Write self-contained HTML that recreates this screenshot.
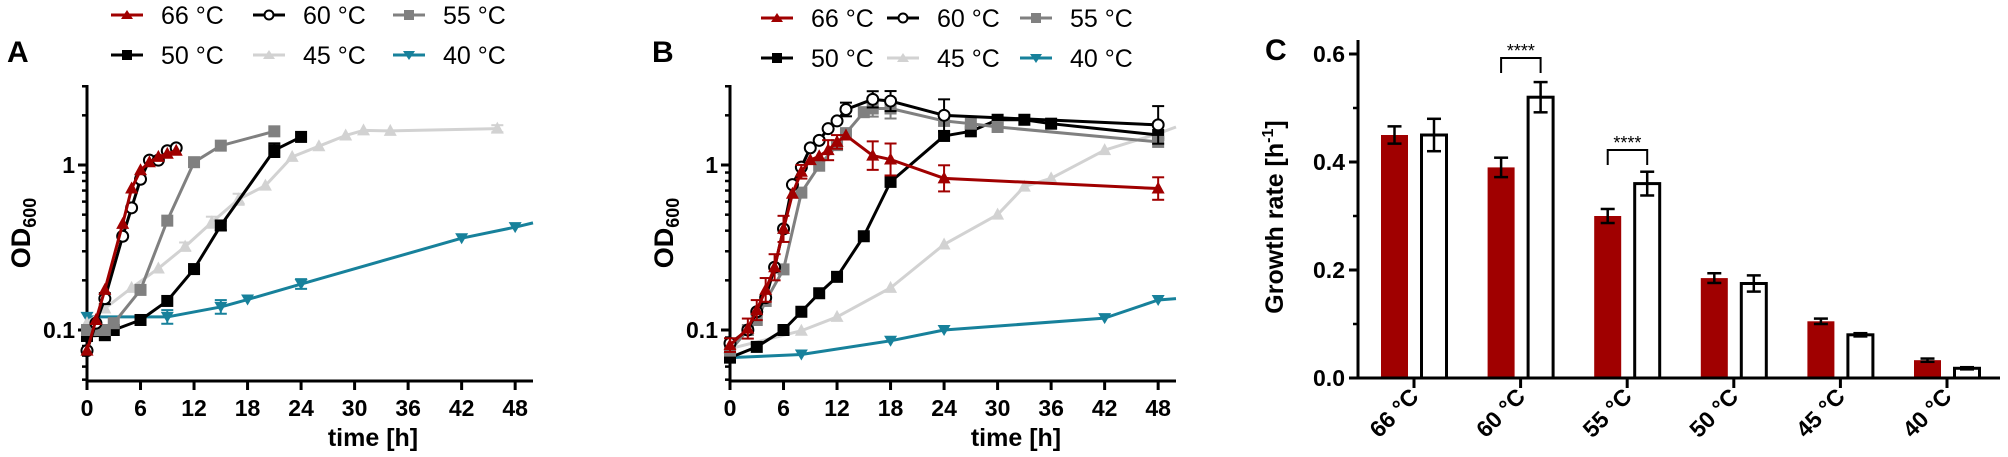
<!DOCTYPE html>
<html><head><meta charset="utf-8"><style>
html,body{margin:0;padding:0;background:#fff;}
svg{display:block;font-family:"Liberation Sans",Arial,sans-serif;}
</style></head><body>
<svg id="fig" width="2008" height="457" viewBox="0 0 2008 457" xmlns="http://www.w3.org/2000/svg"></svg>
<script>
// ---------- Panel A data ----------
const aT66=[0,1,2,4,5,6,7,8,9,10];
const aV66=[0.075,0.115,0.175,0.44,0.72,0.93,1.04,1.12,1.17,1.22];
const aT60=[0,1,2,4,5,6,7,8,9,10];
const aV60=[0.075,0.11,0.155,0.37,0.55,0.82,1.07,1.07,1.22,1.27];
const aT55=[0,1,2,3,6,9,12,15,21];
const aV55=[0.1,0.1,0.1,0.11,0.175,0.46,1.04,1.31,1.6];
const aT50=[0,2,3,6,9,12,15,21,24];
const aV50=[0.092,0.093,0.1,0.115,0.15,0.234,0.43,1.23,1.48];
const aT45=[0,2,5,8,11,14,17,20,23,26,29,31,34,46];
const aV45=[0.11,0.135,0.18,0.236,0.32,0.45,0.62,0.75,1.12,1.3,1.51,1.62,1.61,1.66];
const aT40=[0,9,15,18,24,42,48,50];
const aV40=[0.12,0.12,0.138,0.153,0.19,0.36,0.42,0.446];
// ---------- Panel B data ----------
const bT66=[0,2,3,4,5,6,7,8,9,10,11,12,13,16,18,24,48];
const bV66=[0.081,0.102,0.132,0.175,0.24,0.41,0.67,0.91,1.07,1.13,1.23,1.38,1.51,1.14,1.08,0.83,0.72];
const bT60=[0,2,3,4,5,6,7,8,9,10,11,12,13,16,18,24,48];
const bV60=[0.083,0.1,0.129,0.157,0.24,0.41,0.76,0.97,1.27,1.41,1.66,1.85,2.17,2.5,2.44,2.0,1.75];
const bT55=[0,2,3,4,6,8,10,12,13,15,16,18,24,27,30,48];
const bV55=[0.075,0.1,0.115,0.15,0.233,0.68,0.99,1.32,1.56,2.09,2.2,2.2,1.85,1.78,1.7,1.38];
const bT50=[0,3,6,8,10,12,15,18,24,27,30,33,36,48];
const bV50=[0.068,0.079,0.1,0.129,0.167,0.21,0.37,0.79,1.5,1.6,1.88,1.88,1.78,1.52];
const bT45=[0,8,12,18,24,30,33,36,42,48,50];
const bV45=[0.077,0.099,0.12,0.18,0.33,0.5,0.74,0.83,1.23,1.55,1.7];
const bT40=[0,8,18,24,42,48,50];
const bV40=[0.068,0.071,0.086,0.1,0.118,0.152,0.155];
// ---------- Panel C data ----------
const cCats=["66 °C","60 °C","55 °C","50 °C","45 °C","40 °C"];
const cRed=[0.45,0.39,0.30,0.185,0.105,0.033];
const cRedErr=[0.016,0.018,0.013,0.009,0.005,0.003];
const cWhite=[0.45,0.52,0.36,0.175,0.08,0.018];
const cWhiteErr=[0.03,0.028,0.022,0.015,0.003,0.002];
const cTicks=[0.0,0.2,0.4,0.6];
const xTicks=[0,6,12,18,24,30,36,42,48];

const NS="http://www.w3.org/2000/svg";
const svg=document.getElementById('fig');
function mk(tag,attrs,parent){const e=document.createElementNS(NS,tag);for(const k in attrs)e.setAttribute(k,attrs[k]);(parent||svg).appendChild(e);return e;}

const RED="#a00000",GRAY="#808080",LG="#d2d2d2",TEAL="#17819b";
function marker(g,type,x,y,color){
  let m;
  if(type==='tri'){m=mk('polygon',{points:`${x},${y-7} ${x-6.5},${y+5} ${x+6.5},${y+5}`,fill:color},g);}
  else if(type==='dtri'){m=mk('polygon',{points:`${x},${y+6} ${x-6.5},${y-5} ${x+6.5},${y-5}`,fill:color},g);}
  else if(type==='sq'){m=mk('rect',{x:x-6,y:y-6,width:12,height:12,fill:color},g);}
  else {m=mk('circle',{cx:x,cy:y,r:5.5,fill:'#fff',stroke:color,'stroke-width':2},g);}
  return m;
}

function linePanel(ox,name,sets){
  const x0=ox, x1=ox+446, yTop=85, yBot=381;
  const sx=t=>x0+t*8.92;
  const sy=v=>330-(Math.log10(v)+1)*165;
  const g=mk('g',{});
  
  
  // axes
  const ya=mk('line',{x1:x0,y1:yTop,x2:x0,y2:yBot,stroke:'#000','stroke-width':3},g);
  
  const xa=mk('line',{x1:x0-1.5,y1:yBot,x2:x1,y2:yBot,stroke:'#000','stroke-width':3},g);
  
  const minors=[0.05,0.06,0.07,0.08,0.09,0.2,0.3,0.4,0.5,0.6,0.7,0.8,0.9,2,3];
  minors.forEach(v=>mk('line',{x1:x0-5,y1:sy(v),x2:x0,y2:sy(v),stroke:'#000','stroke-width':2.5},g));
  [0.1,1].forEach(v=>{
    mk('line',{x1:x0-9,y1:sy(v),x2:x0,y2:sy(v),stroke:'#000','stroke-width':3},g);
    const t=mk('text',{x:x0-12,y:sy(v)+8,'text-anchor':'end','font-size':23,'font-weight':'bold'},g);
    t.textContent=String(v);
    
  });
  xTicks.forEach(t=>{
    mk('line',{x1:sx(t),y1:yBot,x2:sx(t),y2:yBot+9,stroke:'#000','stroke-width':3},g);
    const tx=mk('text',{x:sx(t),y:yBot+35,'text-anchor':'middle','font-size':23,'font-weight':'bold'},g);
    tx.textContent=t;
    
  });
  const xt=mk('text',{x:x0+286,y:446,'text-anchor':'middle','font-size':25,'font-weight':'bold'},g);
  xt.textContent='time [h]';
  
  const yt=mk('text',{transform:`translate(${x0-57},233) rotate(-90)`,'text-anchor':'middle','font-size':27,'font-weight':'bold'},g);
  yt.innerHTML='OD<tspan font-size="18" dy="6">600</tspan>';
  
  sets.forEach(s=>{
    const sg=mk('g',{},g);
    
    
    const pts=s.t.map((t,i)=>`${sx(t)},${sy(s.v[i])}`).join(' ');
    mk('polyline',{points:pts,fill:'none',stroke:s.c,'stroke-width':3,'stroke-linejoin':'round'},sg);
    (s.err||[]).forEach(([i,f])=>{
      const x=sx(s.t[i]),ya_=sy(s.v[i]*f),yb=sy(s.v[i]/f);
      mk('line',{x1:x,y1:ya_,x2:x,y2:yb,stroke:s.c,'stroke-width':2},sg);
      mk('line',{x1:x-6,y1:ya_,x2:x+6,y2:ya_,stroke:s.c,'stroke-width':2},sg);
      mk('line',{x1:x-6,y1:yb,x2:x+6,y2:yb,stroke:s.c,'stroke-width':2},sg);
    });
    s.t.forEach((t,i)=>{ if(t<=48.5){const m=marker(sg,s.m,sx(t),sy(s.v[i]),s.c);
      }});
  });
}

linePanel(87,'panel-a',[
  {label:'40C',t:aT40,v:aV40,c:TEAL,m:'dtri',err:[[1,1.1],[2,1.1],[4,1.07]]},
  {label:'45C',t:aT45,v:aV45,c:LG,m:'tri',err:[[4,1.06],[5,1.08],[6,1.08],[13,1.05]]},
  {label:'50C',t:aT50,v:aV50,c:'#000',m:'sq',err:[[6,1.07],[7,1.1]]},
  {label:'55C',t:aT55,v:aV55,c:GRAY,m:'sq'},
  {label:'60C',t:aT60,v:aV60,c:'#000',m:'circ',err:[[2,1.08]]},
  {label:'66C',t:aT66,v:aV66,c:RED,m:'tri'}
]);
linePanel(730,'panel-b',[
  {label:'40C',t:bT40,v:bV40,c:TEAL,m:'dtri'},
  {label:'45C',t:bT45,v:bV45,c:LG,m:'tri'},
  {label:'50C',t:bT50,v:bV50,c:'#000',m:'sq'},
  {label:'55C',t:bT55,v:bV55,c:GRAY,m:'sq',err:[[11,1.15],[10,1.12]]},
  {label:'60C',t:bT60,v:bV60,c:'#000',m:'circ',err:[[12,1.1],[13,1.12],[14,1.15],[16,1.3],[15,1.25]]},
  {label:'66C',t:bT66,v:bV66,c:RED,m:'tri',err:[[0,1.1],[1,1.15],[2,1.15],[3,1.18],[4,1.2],[5,1.2],[7,1.1],[10,1.15],[11,1.1],[13,1.22],[14,1.25],[15,1.2],[16,1.17]]}
]);

// panel letters
[['A',7,62],['B',652,62],['C',1265,60]].forEach(([l,x,y])=>{
  const t=mk('text',{x:x,y:y,'font-size':30,'font-weight':'bold'});
  t.textContent=l;
  
});

// legends
function legend(xs,rowY,name){
  const items=[['66 °C',RED,'tri'],['60 °C','#000','circ'],['55 °C',GRAY,'sq'],['50 °C','#000','sq'],['45 °C',LG,'tri'],['40 °C',TEAL,'dtri']];
  items.forEach((it,i)=>{
    const cx=xs[i%3], cy=rowY[Math.floor(i/3)];
    const g=mk('g',{});
    
    
    mk('line',{x1:cx-16,y1:cy,x2:cx+16,y2:cy,stroke:it[1],'stroke-width':3},g);
    if(it[2]==='sq') mk('rect',{x:cx-5,y:cy-5,width:10,height:10,fill:it[1]},g);
    else if(it[2]==='circ') mk('circle',{cx:cx,cy:cy,r:4.5,fill:'#fff',stroke:it[1],'stroke-width':2},g);
    else if(it[2]==='tri') mk('polygon',{points:`${cx},${cy-5} ${cx-6},${cy+4} ${cx+6},${cy+4}`,fill:it[1]},g);
    else mk('polygon',{points:`${cx},${cy+5} ${cx-6},${cy-4} ${cx+6},${cy-4}`,fill:it[1]},g);
    const t=mk('text',{x:cx+34,y:cy+9,'font-size':25},g);
    t.textContent=it[0];
  });
}
legend([127,269,409],[15,55],'legend-a');
legend([777,903,1036],[18,58],'legend-b');

// ---------- Panel C ----------
(function(){
  const x0=1358, x1=2000, yB=378;
  const sy=v=>yB-v*540;
  const tickX=i=>1414+i*106.6;
  const g=mk('g',{});
  
  cTicks.forEach(v=>{
    mk('line',{x1:x0-9,y1:sy(v),x2:x0,y2:sy(v),stroke:'#000','stroke-width':3},g);
    const t=mk('text',{x:x0-13,y:sy(v)+8,'text-anchor':'end','font-size':23,'font-weight':'bold'},g);
    t.textContent=v.toFixed(1);
    
  });
  [0.1,0.3,0.5].forEach(v=>mk('line',{x1:x0-5,y1:sy(v),x2:x0,y2:sy(v),stroke:'#000','stroke-width':2.5},g));
  const yt=mk('text',{transform:'translate(1283,217) rotate(-90)','text-anchor':'middle','font-size':25,'font-weight':'bold'},g);
  yt.innerHTML='Growth rate [h<tspan font-size="16" dy="-10">-1</tspan><tspan dy="10">]</tspan>';
  
  function eb(x,v,e){
    mk('line',{x1:x,y1:sy(v+e),x2:x,y2:sy(v-e),stroke:'#000','stroke-width':2.5},g);
    mk('line',{x1:x-7,y1:sy(v+e),x2:x+7,y2:sy(v+e),stroke:'#000','stroke-width':2.5},g);
    mk('line',{x1:x-7,y1:sy(v-e),x2:x+7,y2:sy(v-e),stroke:'#000','stroke-width':2.5},g);
  }
  cCats.forEach((c,i)=>{
    const tx=tickX(i);
    const r=mk('rect',{x:tx-33,y:sy(cRed[i]),width:27,height:yB-sy(cRed[i]),fill:RED},g);
    
    const w=mk('rect',{x:tx+7.5,y:sy(cWhite[i]),width:25,height:yB-sy(cWhite[i]),fill:'#fff',stroke:'#000','stroke-width':3},g);
    
    eb(tx-19.5,cRed[i],cRedErr[i]);
    eb(tx+20,cWhite[i],cWhiteErr[i]);
    mk('line',{x1:tx,y1:yB,x2:tx,y2:yB+10,stroke:'#000','stroke-width':3},g);
    const t=mk('text',{transform:`translate(${tx+6},${yB+20}) rotate(-45)`,'text-anchor':'end','font-size':23,'font-weight':'bold'},g);
    t.textContent=c;
    
  });
  const ya=mk('line',{x1:x0,y1:40,x2:x0,y2:yB+1.5,stroke:'#000','stroke-width':3},g);
  
  const xa=mk('line',{x1:x0,y1:yB,x2:x1,y2:yB,stroke:'#000','stroke-width':3},g);
  
  // significance brackets
  [[1,58],[2,150]].forEach(([i,top])=>{
    const tx=tickX(i), a=tx-19.5, b=tx+20;
    const s=mk('g',{},g);
    
    mk('polyline',{points:`${a},${top+15} ${a},${top} ${b},${top} ${b},${top+15}`,fill:'none',stroke:'#000','stroke-width':2},s);
    const t=mk('text',{x:(a+b)/2,y:top-1,'text-anchor':'middle','font-size':18},s);
    t.textContent='****';
  });
})();
</script>
</body></html>
